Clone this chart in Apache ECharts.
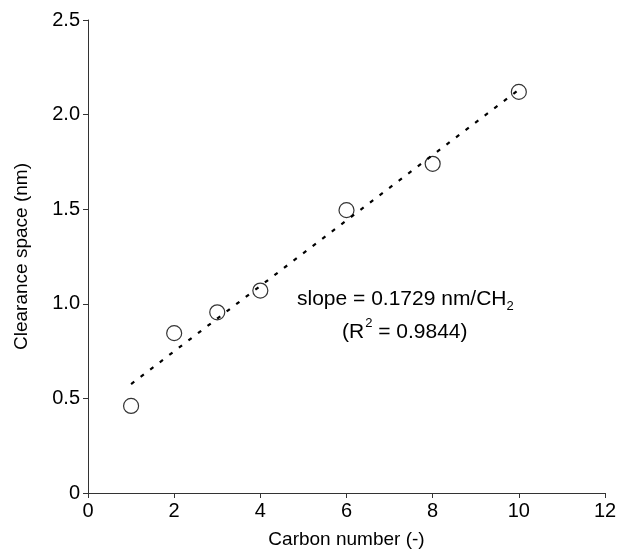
<!DOCTYPE html>
<html>
<head>
<meta charset="utf-8">
<script src="https://cdn.jsdelivr.net/npm/echarts@6/dist/echarts.min.js"></script>
<style>
html,body{margin:0;padding:0;background:#fff;}
#chart{width:620px;height:554px;}
</style>
</head>
<body>
<div id="chart"></div>
<script>
// Data
var carbonNumber = [1, 2, 3, 4, 6, 8, 10];
var clearanceSpace = [0.46, 0.845, 0.955, 1.07, 1.495, 1.74, 2.12];
// Linear fit (dotted line) end points
var fitX = [1, 10];
var fitY = [0.576, 2.132];
var xTicks = [0, 2, 4, 6, 8, 10, 12];
var yTicks = [0, 0.5, 1.0, 1.5, 2.0, 2.5];

var FONT = '"Liberation Sans", Arial, Helvetica, sans-serif';
var chart = echarts.init(document.getElementById('chart'), null, {renderer: 'canvas'});

var points = carbonNumber.map(function (x, i) { return [x, clearanceSpace[i]]; });
var fitLine = fitX.map(function (x, i) { return [x, fitY[i]]; });

var axisCommon = {
  axisLine: {show: true, lineStyle: {color: '#333', width: 1}},
  axisTick: {show: true, inside: false, length: 5, lineStyle: {color: '#333', width: 1}},
  splitLine: {show: false},
  nameLocation: 'middle',
  nameTextStyle: {fontFamily: FONT, fontSize: 19, color: '#000'}
};

chart.setOption({
  animation: false,
  backgroundColor: '#fff',
  grid: {left: 88, right: 15, top: 20, bottom: 56, containLabel: false},
  xAxis: Object.assign({}, axisCommon, {
    type: 'value',
    min: xTicks[0], max: xTicks[xTicks.length - 1], interval: 2,
    name: 'Carbon number (-)',
    nameGap: 37,
    axisLabel: {fontFamily: FONT, fontSize: 20, color: '#000', margin: 8}
  }),
  yAxis: Object.assign({}, axisCommon, {
    type: 'value',
    min: yTicks[0], max: yTicks[yTicks.length - 1], interval: 0.5,
    name: 'Clearance space (nm)',
    nameGap: 57,
    axisLabel: {
      fontFamily: FONT, fontSize: 20, color: '#000', margin: 8,
      formatter: function (v) { return v === 0 ? '0' : v.toFixed(1); }
    }
  }),
  graphic: [{
    type: 'text',
    left: 297, top: 289,
    style: {
      text: '{n|slope = 0.1729 nm/CH}{sub|2}',
      font: '21px ' + FONT,
      fill: '#000',
      rich: {
        n: {fontFamily: FONT, fontSize: 21, lineHeight: 28, verticalAlign: 'bottom'},
        sub: {fontFamily: FONT, fontSize: 13, lineHeight: 28, verticalAlign: 'bottom', padding: [0, 0, -3, 0]}
      }
    }
  }, {
    type: 'text',
    left: 342, top: 315,
    style: {
      text: '{n|(R}{sup|2}{n| = 0.9844)}',
      font: '21px ' + FONT,
      fill: '#000',
      rich: {
        n: {fontFamily: FONT, fontSize: 21, lineHeight: 28, verticalAlign: 'bottom'},
        sup: {fontFamily: FONT, fontSize: 13, lineHeight: 28, verticalAlign: 'top', padding: [2, 0, 0, 1]}
      }
    }
  }],
  series: [{
    type: 'line',
    data: fitLine,
    symbol: 'none',
    lineStyle: {color: '#000', width: 2.2, type: [4, 8]},
    z: 1
  }, {
    type: 'scatter',
    data: points,
    symbol: 'circle',
    symbolSize: 15,
    itemStyle: {color: 'rgba(0,0,0,0)', borderColor: '#000', borderWidth: 1.2},
    z: 2
  }]
});
</script>
</body>
</html>
